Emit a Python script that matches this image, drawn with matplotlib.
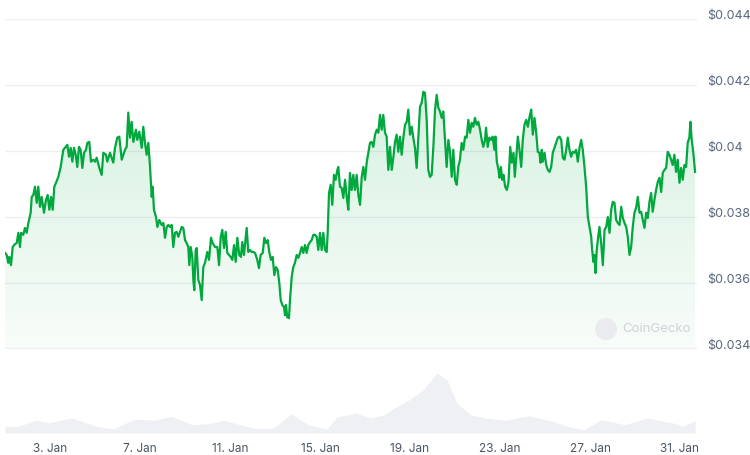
import numpy as np
import matplotlib
matplotlib.use('Agg')
import matplotlib.pyplot as plt
from matplotlib.patches import Ellipse
from matplotlib.transforms import ScaledTranslation

# ---- data: hours since 1 Jan 00:00, price in USD ----
hours = [0, 1.8, 3.5, 4.6, 6.4, 8.2, 10.7, 12.5, 14.2, 16.0, 17.1, 19.5, 21.3, 23.1, 24.9, 27.4, 28.5, 30.2, 32.0, 33.8,
         35.5, 37.3, 39.1, 41.6, 43.7, 45.5, 47.3, 49.1, 50.9, 52.6, 54.4, 56.9, 59.4, 62.2, 64.7, 66.5, 68.3, 70.1, 71.8, 73.6,
         75.4, 77.1, 78.9, 80.7, 82.5, 84.3, 86.4, 87.8, 89.9, 91.7, 94.2, 96.0, 97.8, 100.6,
         103.1, 104.9, 107.7, 109.1, 112.0, 115.5, 117.3, 119.8, 121.9, 124.5, 126.2, 128.0, 129.8, 131.5, 133.3, 135.1, 136.9, 139.7, 141.1, 143.3,
         145.8, 147.5, 149.3, 151.1, 152.9, 154.7, 156.5, 157.5, 158.9, 161.1, 162.5, 164.6, 167.1, 168.9, 170.7, 172.5, 174.2, 176.0, 177.8, 179.5,
         181.3, 183.1, 184.9, 186.7, 188.5, 190.2, 192.0, 193.8, 195.5, 196.6, 198.1, 199.8, 200.9, 201.9, 203.4, 204.5, 206.2, 208.0,
         209.8, 211.5, 213.3, 215.8, 217.6, 219.7, 221.5, 224.0, 226.5, 228.3, 230.1, 231.8, 233.6, 235.4, 237.1, 238.9, 240.7, 242.5, 244.3, 246.1,
         247.8, 249.9, 251.7, 253.1, 254.9, 257.8, 259.5, 261.3, 263.1, 264.9, 266.7, 269.1, 270.9, 272.7, 274.9, 276.6, 278.4, 280.2, 281.9, 283.7,
         285.5, 287.3, 289.1, 290.9, 292.6, 294.1, 295.8, 297.6, 298.7, 299.7, 301.1, 302.9,
         304.0, 305.8, 307.5, 309.3, 311.1, 312.9, 314.7, 316.5, 318.2, 320.0, 321.8, 323.5, 325.3, 327.1, 328.9, 330.7, 332.5, 334.2, 336.0, 337.8,
         339.5, 341.3, 343.1, 344.2, 345.6, 347.4, 349.1, 350.9, 352.7, 354.5, 355.5, 357.3, 359.1, 360.9, 362.7, 364.5, 366.2, 368.0, 369.8, 371.5,
         373.3, 375.1, 376.9, 378.7, 380.5, 382.2, 384.0, 385.8, 387.5, 389.3, 391.1, 392.9, 394.7, 396.5, 398.2, 400.0, 401.8, 403.5, 405.3, 407.1,
         408.9, 410.7,
         412.5, 414.2, 416.0, 417.8, 419.5, 421.3, 423.1, 424.9, 426.7, 428.5, 430.2, 432.0, 433.8, 435.5, 437.3, 439.1, 440.9, 442.7, 444.5, 446.2,
         448.0, 449.8, 451.5, 453.3, 455.1, 456.9, 458.7, 460.5, 462.2, 464.0, 465.8, 467.5, 469.3, 471.1, 472.9, 474.7, 476.5, 478.2, 480.0, 481.8,
         483.5, 485.3, 487.1, 488.9, 490.7, 492.5, 494.2, 496.0, 497.8, 499.5, 501.3, 503.1, 504.9, 506.7, 508.5, 510.2, 512.0, 513.1, 514.9, 516.6,
         518.5, 520.2, 522.0, 523.1, 524.6, 526.4, 527.5, 528.9, 530.4, 531.7, 533.5, 535.3, 537.1, 538.9, 540.6, 542.4, 543.8, 545.3, 547.0, 548.8,
         550.6, 552.3, 554.1, 555.9, 557.7, 559.5, 561.3, 563.0, 564.8, 566.6, 568.3, 570.1, 571.2, 572.6, 573.6, 575.5, 577.3, 579.0, 580.8, 582.6,
         584.3, 586.1, 587.9, 589.7, 591.5, 593.3, 595.0, 596.8, 598.6, 600.3, 602.1, 603.9, 605.6, 607.4, 609.2, 611.0, 612.8, 614.6, 616.3, 618.1,
         619.9, 621.7,
         623.5, 625.3, 626.3, 627.7, 628.8, 629.9, 631.2, 632.7, 634.1, 635.9, 637.7, 639.5, 641.3, 643.0, 644.8, 646.6, 648.3, 650.1, 651.9, 653.7,
         655.5, 657.3, 659.0, 660.8, 662.6, 664.3, 666.1, 667.9, 669.6, 671.4, 673.2, 675.0, 676.8, 678.6, 680.3, 682.1, 683.9, 685.6, 687.4, 689.2,
         690.9, 692.7, 694.5, 696.3, 698.1, 699.9, 701.6, 703.4, 705.2, 706.9, 708.7, 710.5, 712.2, 714.0, 715.8, 717.6, 719.4, 721.2, 722.9, 724.7,
         726.5, 728.2, 730.0, 731.1, 732.5, 734.2, 736.1]

price = [0.03690, 0.03684, 0.03660, 0.03678, 0.03653, 0.03708, 0.03717, 0.03720, 0.03751, 0.03708, 0.03751, 0.03745, 0.03766, 0.03751, 0.03781, 0.03812, 0.03860, 0.03866, 0.03891, 0.03842,
         0.03891, 0.03830, 0.03860, 0.03812, 0.03851, 0.03866, 0.03821, 0.03860, 0.03821, 0.03891, 0.03903, 0.03921, 0.03951, 0.04003, 0.04012, 0.04018, 0.03982, 0.04009, 0.03967, 0.04009,
         0.03988, 0.03951, 0.04012, 0.04003, 0.03948, 0.03994, 0.04003, 0.04024, 0.04027, 0.03967, 0.03973, 0.03967, 0.03979, 0.03948,
         0.03927, 0.03994, 0.03988, 0.03967, 0.03994, 0.03964, 0.04009, 0.04040, 0.04043, 0.03973, 0.03988, 0.04003, 0.04012, 0.04116, 0.04040, 0.04088, 0.04027, 0.04064, 0.04033, 0.04058,
         0.04009, 0.04073, 0.04024, 0.03988, 0.04024, 0.03951, 0.03860, 0.03891, 0.03821, 0.03799, 0.03769, 0.03790, 0.03775, 0.03781, 0.03736, 0.03769, 0.03775, 0.03769, 0.03775, 0.03708,
         0.03751, 0.03754, 0.03739, 0.03754, 0.03769, 0.03766, 0.03729, 0.03720, 0.03708, 0.03653, 0.03708, 0.03678, 0.03608, 0.03577, 0.03699, 0.03705, 0.03608, 0.03593,
         0.03547, 0.03647, 0.03660, 0.03693, 0.03669, 0.03736, 0.03720, 0.03708, 0.03708, 0.03653, 0.03739, 0.03760, 0.03705, 0.03754, 0.03690, 0.03684, 0.03678, 0.03669, 0.03714, 0.03663,
         0.03736, 0.03684, 0.03678, 0.03723, 0.03684, 0.03766, 0.03693, 0.03699, 0.03693, 0.03693, 0.03690, 0.03669, 0.03644, 0.03684, 0.03690, 0.03736, 0.03720, 0.03729, 0.03693, 0.03669,
         0.03678, 0.03623, 0.03647, 0.03638, 0.03599, 0.03547, 0.03532, 0.03526, 0.03501, 0.03532, 0.03495, 0.03492,
         0.03547, 0.03617, 0.03647, 0.03660, 0.03684, 0.03675, 0.03690, 0.03708, 0.03690, 0.03714, 0.03690, 0.03714, 0.03723, 0.03729, 0.03745, 0.03745, 0.03739, 0.03699, 0.03751, 0.03699,
         0.03751, 0.03699, 0.03693, 0.03751, 0.03872, 0.03897, 0.03836, 0.03927, 0.03912, 0.03942, 0.03951, 0.03891, 0.03888, 0.03857, 0.03912, 0.03860, 0.03821, 0.03933, 0.03881, 0.03927,
         0.03881, 0.03927, 0.03866, 0.03836, 0.03921, 0.03951, 0.03912, 0.03964, 0.03994, 0.04024, 0.04027, 0.04012, 0.04049, 0.04064, 0.04055, 0.04109, 0.04064, 0.04109, 0.04055, 0.04043,
         0.03942, 0.04012,
         0.03942, 0.03979, 0.04027, 0.04049, 0.03997, 0.04043, 0.03988, 0.04040, 0.04079, 0.04088, 0.04125, 0.04049, 0.04073, 0.04040, 0.04009, 0.03948, 0.04043, 0.04134, 0.04146, 0.04179,
         0.04176, 0.04094, 0.03942, 0.03921, 0.03927, 0.04012, 0.04125, 0.04170, 0.04131, 0.04119, 0.04100, 0.04119, 0.04033, 0.03951, 0.04033, 0.03997, 0.03921, 0.04003, 0.03912, 0.03897,
         0.03951, 0.03973, 0.04024, 0.04003, 0.04043, 0.04040, 0.04094, 0.04055, 0.04085, 0.04073, 0.04100, 0.04079, 0.04088, 0.04064, 0.04033, 0.04012, 0.04033, 0.04070, 0.04012, 0.04040,
         0.04033, 0.04043, 0.04003, 0.04043, 0.03967, 0.03942, 0.03918, 0.03951, 0.03912, 0.03927, 0.03891, 0.03881, 0.03906, 0.04012, 0.03964, 0.03994, 0.03921, 0.03979, 0.04043, 0.04003,
         0.03951, 0.04033, 0.04079, 0.04094, 0.04073, 0.04103, 0.04125, 0.04049, 0.04100, 0.04055, 0.03997, 0.03994, 0.03964, 0.04003, 0.03967, 0.03994, 0.03957, 0.03942, 0.03936, 0.03951,
         0.03994, 0.04009, 0.04024, 0.04040, 0.04043, 0.04033, 0.03979, 0.03973, 0.04003, 0.04040, 0.04003, 0.03982, 0.03997, 0.03994, 0.04003, 0.03967, 0.04009, 0.04033, 0.04003, 0.03951,
         0.03891, 0.03799,
         0.03769, 0.03739, 0.03699, 0.03663, 0.03684, 0.03629, 0.03699, 0.03739, 0.03769, 0.03720, 0.03653, 0.03760, 0.03769, 0.03799, 0.03751, 0.03821, 0.03845, 0.03842, 0.03790, 0.03781,
         0.03775, 0.03830, 0.03796, 0.03781, 0.03769, 0.03739, 0.03684, 0.03708, 0.03769, 0.03812, 0.03827, 0.03860, 0.03812, 0.03815, 0.03790, 0.03766, 0.03812, 0.03796, 0.03845, 0.03872,
         0.03815, 0.03851, 0.03881, 0.03906, 0.03918, 0.03875, 0.03933, 0.03942, 0.03948, 0.03997, 0.03988, 0.03973, 0.03957, 0.03988, 0.03936, 0.03973, 0.03903, 0.03948, 0.03912, 0.03957,
         0.03951, 0.04024, 0.04040, 0.04088, 0.04033, 0.03994, 0.03936]

# relative trading volume (arbitrary units)
vol_hours = [0, 14.9, 33.1, 45.9, 71.5, 97.1, 115.2, 138.7, 158.9, 177.1, 199.5, 215.5, 233.6, 250.7, 266.7, 286.9,
             305.1, 323.2, 343.5, 354.1, 374.4, 389.3, 405.3, 414.9, 430.9, 445.9, 460.8, 471.5, 482.1, 497.1, 513.1,
             533.3, 558.9, 584.5, 599.5, 617.6, 635.7, 661.3, 684.8, 712.5, 723.2, 736.1]
vol = [6.7, 6.7, 13, 10, 15, 6.7, 4, 14, 12.7, 16.7, 8.3, 9.3, 12.7, 8.3, 4.3, 5,
       19.3, 8.3, 4, 16, 20, 15, 18.3, 25, 33, 43, 60, 53, 30, 18, 15,
       12.7, 17.3, 11.7, 6.7, 3.3, 13.3, 8.3, 15, 10, 6.7, 12.3]

price_ticks = [0.034, 0.036, 0.038, 0.040, 0.042, 0.044]
price_labels = ['$0.034', '$0.036', '$0.038', '$0.04', '$0.042', '$0.044']
date_ticks = [2, 6, 10, 14, 18, 22, 26, 30]   # days after 1 Jan 00:00
date_labels = ['3. Jan', '7. Jan', '11. Jan', '15. Jan', '19. Jan', '23. Jan', '27. Jan', '31. Jan']

plt.rcParams['font.family'] = ['Inter', 'DejaVu Sans']

W, H = 750, 455
fig = plt.figure(figsize=(W / 100, H / 100), dpi=100)
fig.patch.set_facecolor('white')


def box(x0, y0, x1, y1):
    return [x0 / W, 1 - y1 / H, (x1 - x0) / W, (y1 - y0) / H]


GREEN = '#00a83e'
ax = fig.add_axes(box(5, 19, 697, 348.5))
days = np.array(hours) / 24.0
p = np.array(price)
xmax = 692 / 22.5
ax.set_xlim(0, xmax)
ax.set_ylim(price_ticks[0], price_ticks[-1])
for t in price_ticks:
    ax.axhline(t, color='#eceef1', lw=0.9, zorder=0)

poly = ax.fill_between(days, p, price_ticks[0], color='none', lw=0)
img = np.zeros((256, 1, 4))
img[..., 0] = 0 / 255
img[..., 1] = 168 / 255
img[..., 2] = 62 / 255
img[:, 0, 3] = np.linspace(0.20, 0.03, 256)
im = ax.imshow(img, extent=[0, xmax, price_ticks[0], price_ticks[-1]], aspect='auto',
               origin='upper', zorder=1, interpolation='bilinear')
im.set_clip_path(poly.get_paths()[0], transform=ax.transData)
ax.plot(days, p, color=GREEN, lw=1.6, solid_joinstyle='round', zorder=3)

ax.yaxis.tick_right()
ax.set_yticks(price_ticks, price_labels)
ax.tick_params(axis='y', length=0, pad=7, labelsize=9, labelcolor='#58667e')
shift = ScaledTranslation(0, 4 / 100, fig.dpi_scale_trans)
for lab in ax.get_yticklabels():
    lab.set_transform(lab.get_transform() + shift)
ax.set_xticks([])
for s in ax.spines.values():
    s.set_visible(False)

# watermark
fig.patches.append(Ellipse((606 / W, 1 - 329 / H), 22 / W, 22 / H, transform=fig.transFigure,
                           facecolor='#e9ebee', edgecolor='none', zorder=5))
fig.text(622 / W, 1 - 329 / H, 'CoinGecko', fontsize=9.5, color='#cfd3d8', va='center', ha='left')

# volume
vax = fig.add_axes(box(5, 355, 697, 433))
vax.fill_between(np.array(vol_hours) / 24.0, vol, 0, color='#eef0f3', lw=0)
vax.set_xlim(0, xmax)
vax.set_ylim(0, 78)
vax.set_yticks([])
vax.set_xticks(date_ticks, date_labels)
vax.tick_params(axis='x', length=0, pad=7, labelsize=8.5, labelcolor='#4b5563')
for s in vax.spines.values():
    s.set_visible(False)

fig.savefig('out.png', dpi=100)
